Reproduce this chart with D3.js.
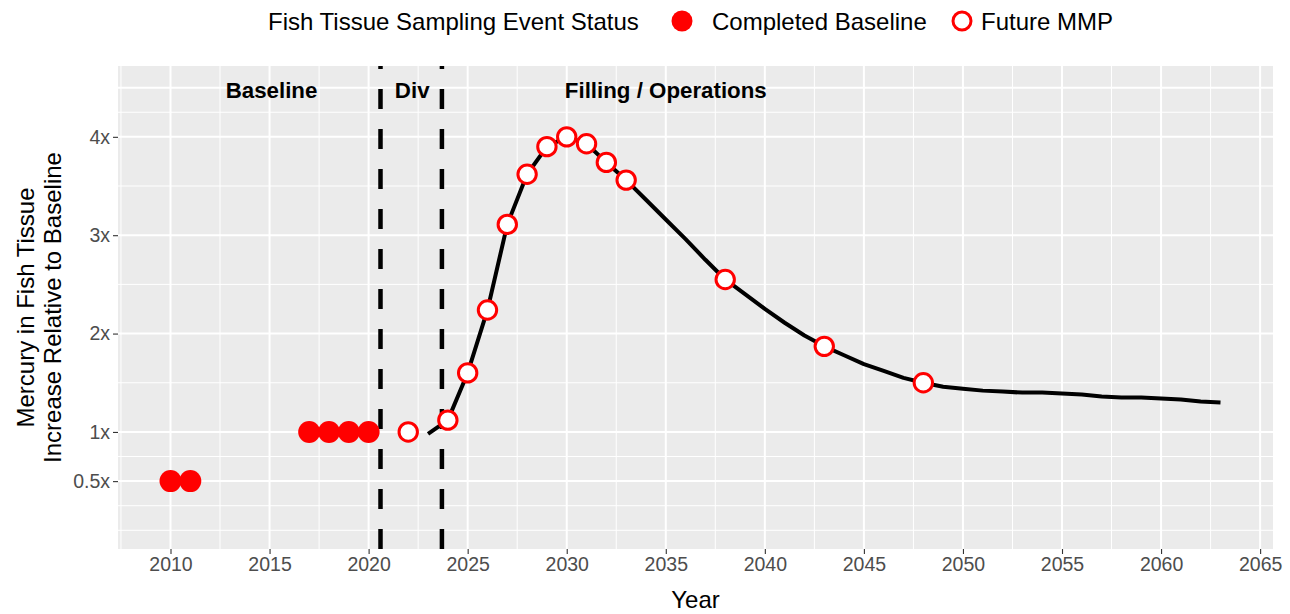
<!DOCTYPE html>
<html><head><meta charset="utf-8">
<script src="https://cdn.jsdelivr.net/npm/d3@7"></script>
<style>body{margin:0;background:#fff;} svg{display:block;font-family:"Liberation Sans",Arial,sans-serif;}</style>
</head><body><svg id="c" width="1290" height="614"></svg>
<script>
// ---- data ----
const completedYears = [2010, 2011, 2017, 2018, 2019, 2020];
const completedValues = [0.5, 0.5, 1.0, 1.0, 1.0, 1.0];
const futureYears = [2022, 2024, 2025, 2026, 2027, 2028, 2029, 2030, 2031, 2032, 2033, 2038, 2043, 2048];
const futureValues = [1.0, 1.12, 1.60, 2.24, 3.11, 3.62, 3.90, 4.00, 3.93, 3.74, 3.56, 2.55, 1.87, 1.50];
const lineYears = [2023, 2024, 2025, 2026, 2027, 2028, 2029, 2030, 2031, 2032, 2033, 2034, 2035, 2036, 2037, 2038,
  2039, 2040, 2041, 2042, 2043, 2044, 2045, 2046, 2047, 2048, 2049, 2050, 2051, 2052, 2053, 2054, 2055, 2056,
  2057, 2058, 2059, 2060, 2061, 2062, 2063];
const lineValues = [0.98, 1.12, 1.60, 2.24, 3.11, 3.62, 3.90, 4.00, 3.93, 3.74, 3.56, 3.36, 3.16, 2.96, 2.75, 2.55,
  2.40, 2.25, 2.11, 1.98, 1.87, 1.78, 1.69, 1.62, 1.55, 1.50, 1.46, 1.44, 1.42, 1.41, 1.40, 1.40, 1.39, 1.38,
  1.36, 1.35, 1.35, 1.34, 1.33, 1.31, 1.30];
const phaseBreaks = [2020.6, 2023.7];
const phaseLabels = ["Baseline", "Div", "Filling / Operations"];
const phaseLabelYears = [2015.1, 2022.2, 2035.0];
const phaseLabelValue = 4.47;
const xTicks = [2010, 2015, 2020, 2025, 2030, 2035, 2040, 2045, 2050, 2055, 2060, 2065];
const yTicks = [0.5, 1, 2, 3, 4];
const yTickLabels = ["0.5x", "1x", "2x", "3x", "4x"];
const yMajorGrid = [0.5, 1, 2, 3, 4, 4.5];
const yMinorGrid = [0, 0.25, 0.75, 1.5, 2.5, 3.5, 4.25];
const xMinorGrid = [2007.5, 2012.5, 2017.5, 2022.5, 2027.5, 2032.5, 2037.5, 2042.5, 2047.5, 2052.5, 2057.5, 2062.5];
const legendTitle = "Fish Tissue Sampling Event Status";
const legendLabels = ["Completed Baseline", "Future MMP"];
const xTitle = "Year";
const yTitleLines = ["Mercury in Fish Tissue", "Increase Relative to Baseline"];

// ---- layout ----
const P = {l: 118, r: 1273, t: 66, b: 549};
const svg = d3.select("#c");
const x = d3.scaleLinear().domain([2007.35, 2065.65]).range([P.l, P.r]);
const y = d3.scaleLinear().domain([-0.19, 4.72]).range([P.b, P.t]);

svg.append("rect").attr("x", P.l).attr("y", P.t).attr("width", P.r - P.l).attr("height", P.b - P.t).attr("fill", "#EBEBEB");
const grid = svg.append("g");
grid.selectAll(".hm").data(yMinorGrid).join("line").attr("x1", P.l).attr("x2", P.r)
  .attr("y1", d => y(d)).attr("y2", d => y(d)).attr("stroke", "#fff").attr("stroke-width", 1);
grid.selectAll(".vm").data(xMinorGrid).join("line").attr("y1", P.t).attr("y2", P.b)
  .attr("x1", d => x(d)).attr("x2", d => x(d)).attr("stroke", "#fff").attr("stroke-width", 1);
grid.selectAll(".hM").data(yMajorGrid).join("line").attr("x1", P.l).attr("x2", P.r)
  .attr("y1", d => y(d)).attr("y2", d => y(d)).attr("stroke", "#fff").attr("stroke-width", 2);
grid.selectAll(".vM").data(xTicks).join("line").attr("y1", P.t).attr("y2", P.b)
  .attr("x1", d => x(d)).attr("x2", d => x(d)).attr("stroke", "#fff").attr("stroke-width", 2);

// axes
const xAxis = svg.append("g").attr("transform", `translate(0,${P.b})`)
  .call(d3.axisBottom(x).tickValues(xTicks).tickFormat(d3.format("d")).tickSize(5).tickPadding(3));
const yAxis = svg.append("g").attr("transform", `translate(${P.l},0)`)
  .call(d3.axisLeft(y).tickValues(yTicks).tickFormat((d, i) => yTickLabels[i]).tickSize(5).tickPadding(3));
[xAxis, yAxis].forEach(a => {
  a.select(".domain").remove();
  a.selectAll(".tick line").attr("stroke", "#333").attr("stroke-width", 1.1);
  a.selectAll(".tick text").attr("fill", "#4D4D4D").style("font-size", "19.5px").style("font-family", "Liberation Sans, Arial, sans-serif");
});

// phase lines
svg.selectAll(".phase").data(phaseBreaks).join("line").attr("x1", d => x(d)).attr("x2", d => x(d))
  .attr("y1", P.b).attr("y2", P.t).attr("stroke", "#000").attr("stroke-width", 4.5).attr("stroke-dasharray", "20,20");

// phase labels
svg.selectAll(".plab").data(phaseLabels).join("text").attr("x", (d, i) => x(phaseLabelYears[i])).attr("y", y(phaseLabelValue))
  .attr("text-anchor", "middle").attr("dominant-baseline", "central").style("font-size", "22.3px").style("font-weight", "bold")
  .attr("fill", "#000").text(d => d);

// projection line
const lineData = lineYears.map((yr, i) => [yr, lineValues[i]]);
svg.append("path").datum(lineData).attr("d", d3.line().x(d => x(d[0])).y(d => y(d[1])))
  .attr("fill", "none").attr("stroke", "#000").attr("stroke-width", 4).attr("stroke-linejoin", "round");

// points
svg.selectAll(".cp").data(completedYears).join("circle").attr("cx", d => x(d)).attr("cy", (d, i) => y(completedValues[i]))
  .attr("r", 11).attr("fill", "#FF0000");
svg.selectAll(".fp").data(futureYears).join("circle").attr("cx", d => x(d)).attr("cy", (d, i) => y(futureValues[i]))
  .attr("r", 9.2).attr("fill", "#fff").attr("stroke", "#FF0000").attr("stroke-width", 3);

// titles
svg.append("text").attr("x", (P.l + P.r) / 2).attr("y", 608).attr("text-anchor", "middle")
  .style("font-size", "24px").attr("fill", "#000").text(xTitle);
const yc = (P.t + P.b) / 2;
yTitleLines.forEach((t, i) => {
  svg.append("text").attr("transform", `translate(${33.5 + i * 27},${yc}) rotate(-90)`).attr("text-anchor", "middle")
    .style("font-size", "24px").attr("fill", "#000").text(t);
});

// legend
const lg = svg.append("g");
const ly = 21;
lg.append("text").attr("x", 268).attr("y", ly).attr("dominant-baseline", "central").style("font-size", "24px").text(legendTitle);
lg.append("circle").attr("cx", 682).attr("cy", ly).attr("r", 10.5).attr("fill", "#FF0000");
lg.append("text").attr("x", 712).attr("y", ly).attr("dominant-baseline", "central").style("font-size", "24px").text(legendLabels[0]);
lg.append("circle").attr("cx", 962).attr("cy", ly).attr("r", 9).attr("fill", "#fff").attr("stroke", "#FF0000").attr("stroke-width", 3);
lg.append("text").attr("x", 981).attr("y", ly).attr("dominant-baseline", "central").style("font-size", "24px").text(legendLabels[1]);
</script></body></html>
